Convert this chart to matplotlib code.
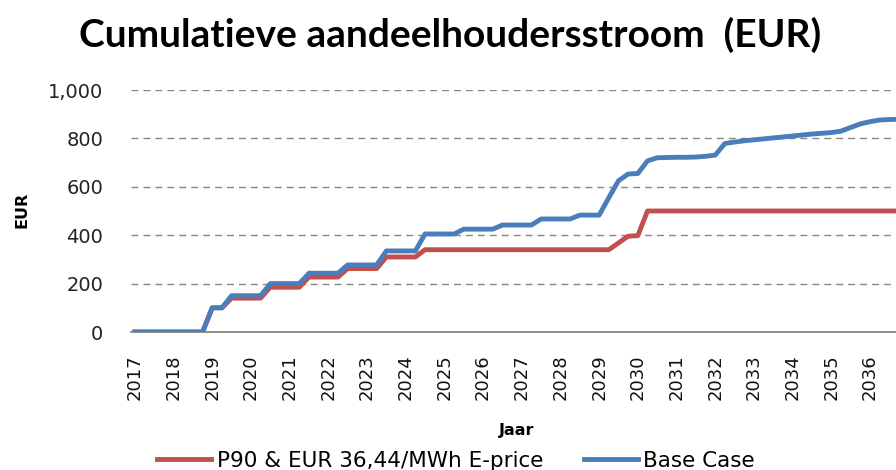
import numpy as np
import matplotlib
matplotlib.use("Agg")
import matplotlib.pyplot as plt
from matplotlib.lines import Line2D

# kwartaalwaarden, cumulatief (EUR)
jaren = np.arange(2017, 2037.01, 0.25)

base_case = [
    0, 0, 0, 0,            # 2017
    0, 0, 0, 0,            # 2018
    100, 100, 150, 150,    # 2019
    150, 150, 200, 200,    # 2020
    200, 200, 243, 243,    # 2021
    243, 243, 277, 277,    # 2022
    277, 277, 335, 335,    # 2023
    335, 335, 405, 405,    # 2024
    405, 405, 425, 425,    # 2025
    425, 425, 442, 442,    # 2026
    442, 442, 467, 467,    # 2027
    467, 467, 483, 483,    # 2028
    483, 555, 625, 653,    # 2029
    655, 707, 720, 721,    # 2030
    722, 722, 723, 726,    # 2031
    731, 779, 785, 790,    # 2032
    794, 798, 802, 806,    # 2033
    810, 814, 818, 821,    # 2034
    824, 830, 845, 860,    # 2035
    869, 876, 878, 879,    # 2036
    880,                   # 2037
]

p90 = [
    0, 0, 0, 0,            # 2017
    0, 0, 0, 0,            # 2018
    100, 100, 140, 140,    # 2019
    140, 140, 185, 185,    # 2020
    185, 185, 227, 227,    # 2021
    227, 227, 262, 262,    # 2022
    262, 262, 310, 310,    # 2023
    310, 310, 340, 340,    # 2024
    340, 340, 340, 340,    # 2025
    340, 340, 340, 340,    # 2026
    340, 340, 340, 340,    # 2027
    340, 340, 340, 340,    # 2028
    340, 340, 368, 396,    # 2029
    398, 500, 500, 500,    # 2030
    500, 500, 500, 500,    # 2031
    500, 500, 500, 500,    # 2032
    500, 500, 500, 500,    # 2033
    500, 500, 500, 500,    # 2034
    500, 500, 500, 500,    # 2035
    500, 500, 500, 500,    # 2036
    500,                   # 2037
]

jaar_labels = list(range(2017, 2037))
y_ticks = [0, 200, 400, 600, 800, 1000]

rood = "#C0504D"
blauw = "#4A7EBB"
grijs = "#868686"

W, H = 896, 470
fig = plt.figure(figsize=(W / 100, H / 100), dpi=100)
fig.patch.set_facecolor("white")

# plotgebied loopt rechts door buiten de figuur
ax = fig.add_axes([131 / W, 1 - 332 / H, (928 - 131) / W, (332 - 90) / H])

ax.plot(jaren, p90, color=rood, lw=3.5, solid_joinstyle="round", zorder=3)
ax.plot(jaren, base_case, color=blauw, lw=3.5, solid_joinstyle="round", zorder=4)

ax.set_xlim(2016.9, 2037.5)
ax.set_ylim(0, 1000)

ax.set_yticks(y_ticks)
ax.set_yticklabels([f"{v:,}" for v in y_ticks], fontsize=14, color="#222222")
ax.set_xticks(jaar_labels)
ax.set_xticklabels([str(j) for j in jaar_labels], rotation=90, fontsize=13,
                   color="#111111")
ax.tick_params(axis="both", length=0)
ax.tick_params(axis="y", pad=20)
ax.tick_params(axis="x", pad=16)

ax.yaxis.grid(True, color=grijs, lw=1.0, ls=(0, (5, 3.6)))
ax.set_axisbelow(True)
for kant in ["left", "right", "top"]:
    ax.spines[kant].set_visible(False)
ax.spines["bottom"].set_color(grijs)
ax.spines["bottom"].set_linewidth(1.3)

fig.text(450 / W, 1 - 35 / H, "Cumulatieve aandeelhoudersstroom  (EUR)",
         ha="center", va="center", fontsize=28, fontweight="bold",
         family="Lato")
fig.text(22 / W, 1 - 210 / H, "EUR", rotation=90, ha="center", va="center",
         fontsize=11.5, fontweight="bold")
fig.text(517 / W, 1 - 430 / H, "Jaar", ha="center", va="center",
         fontsize=11.5, fontweight="bold")

handles = [Line2D([], [], color=rood, lw=3.5),
           Line2D([], [], color=blauw, lw=3.5)]
fig.legend(handles, ["P90 & EUR 36,44/MWh E-price", "Base Case"],
           loc="center", bbox_to_anchor=(456 / W, 1 - 461 / H), ncol=2,
           frameon=False, fontsize=15.5, handlelength=2.5, handletextpad=0.25,
           columnspacing=1.9, borderpad=0)

fig.savefig("out.png", dpi=100)
